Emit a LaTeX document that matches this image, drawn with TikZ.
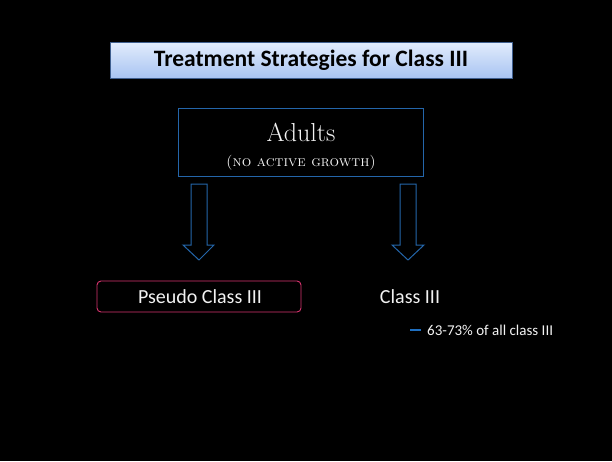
\documentclass[tikz,border=0pt]{standalone}
\usepackage{fontspec}
\newfontfamily\calibrifont{Carlito}
\definecolor{boxblue}{HTML}{2466AA}
\definecolor{titletop}{HTML}{E2ECFC}
\definecolor{titlebot}{HTML}{A8C4F2}
\definecolor{titleedge}{HTML}{3F5F8F}
\definecolor{pink}{HTML}{D8336F}
\definecolor{dashblue}{HTML}{1F6FC0}
\definecolor{txt}{HTML}{F2F2F2}
\begin{document}
\begin{tikzpicture}[x=1pt,y=-1pt,
  arrowshape/.style={draw=boxblue,line width=1pt,line join=miter},
  lbl/.style={text=txt,font=\calibrifont\fontsize{20}{24}\selectfont,inner sep=0pt}]
\useasboundingbox[fill=black] (0,0) rectangle (612,461);
% title
\shade[top color=titletop,bottom color=titlebot,draw=titleedge,line width=0.8pt] (110,42) rectangle (512,78);
\node (title) at (311,60.5) {\calibrifont\bfseries\fontsize{23.5}{28}\selectfont Treatment Strategies for Class III};
% adults box
\node[draw=boxblue,line width=1pt,minimum width=245pt,minimum height=68pt,inner sep=0pt] (adults) at (300.5,142) {};
\node[text=txt,inner sep=0pt] (adultst) at (301,132) {\fontsize{26}{30}\selectfont Adults};
\node[text=txt,inner sep=0pt] (adultsg) at (301,163) {\fontsize{15}{18}\selectfont\textsc{(no active growth)}};
% arrows
\draw[arrowshape] (191,184) -- (207,184) -- (207,245) -- (214,245) -- (199,260) -- (183,245) -- (191,245) -- cycle;
\draw[arrowshape] (400,184) -- (416,184) -- (416,245) -- (424,245) -- (408,260) -- (392,245) -- (400,245) -- cycle;
\coordinate (la) at (199,260);
\coordinate (ra) at (408,260);
% pseudo
\node[draw=pink,line width=0.9pt,rounded corners=4pt,minimum width=204pt,minimum height=31pt] (pseudo) at (199,296.5) {};
\node[lbl] (pseudot) at (200,296.5) {Pseudo Class III};
\node[lbl] (classiii) at (410,296.5) {Class III};
\node[text=txt,inner sep=0pt,font=\calibrifont\fontsize{15}{18}\selectfont,anchor=west] (pct) at (427,330) {63-73\% of all class III};
\draw[dashblue,line width=1.2pt] (410,330) -- (421,330);
\end{tikzpicture}
\end{document}
